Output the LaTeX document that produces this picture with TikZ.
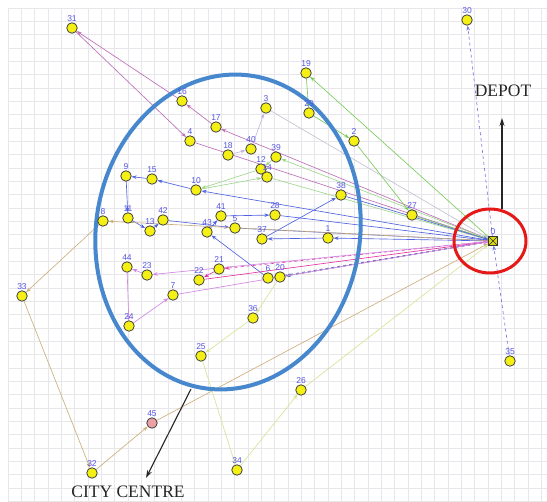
\documentclass[tikz,border=0pt]{standalone}
\usepackage{fontspec}
\setmainfont{Liberation Serif}
\newfontfamily\lblfont{Liberation Sans}
\usetikzlibrary{arrows.meta}
\pgfdeclarelayer{bg}
\pgfdeclarelayer{edges}
\pgfdeclarelayer{ovals}
\pgfsetlayers{bg,edges,ovals,main}
\definecolor{gridc}{RGB}{230,230,235}
\definecolor{lblc}{RGB}{85,85,225}
\definecolor{vio}{RGB}{190,110,185}
\definecolor{lav}{RGB}{200,180,225}
\definecolor{lgray}{RGB}{195,195,210}
\definecolor{grn}{RGB}{120,205,90}
\definecolor{lgrn}{RGB}{160,215,140}
\definecolor{blu}{RGB}{80,100,225}
\definecolor{dblu}{RGB}{70,80,170}
\definecolor{tan}{RGB}{205,175,125}
\definecolor{pale}{RGB}{215,228,150}
\definecolor{mag}{RGB}{230,50,160}
\definecolor{orch}{RGB}{210,135,225}
\definecolor{dpur}{RGB}{120,120,225}
\definecolor{ellc}{RGB}{70,135,205}
\definecolor{redc}{RGB}{230,25,25}
\definecolor{nodey}{RGB}{245,240,20}
\definecolor{pinkn}{RGB}{235,160,165}
\begin{document}
\begin{tikzpicture}[x=1pt,y=-1pt,
  lbl/.style={font=\lblfont\fontsize{8.5}{8.5}\selectfont,text=lblc,inner sep=0.3pt},
  cust/.style={circle,draw=black!75,fill=nodey,line width=0.8pt,minimum size=10.5pt,inner sep=0pt},
  depotbox/.style={rectangle,draw=black!80,fill=nodey!80!olive,line width=0.8pt,minimum size=8.5pt,inner sep=0pt,
     path picture={\draw[black!80,line width=0.5pt] (path picture bounding box.south west) -- (path picture bounding box.north east) (path picture bounding box.north west) -- (path picture bounding box.south east);}},
  e/.style={line width=0.65pt,-{Stealth[length=5pt,width=3.6pt]}},
  annot/.style={line width=1.1pt,black!85,-{Stealth[length=8pt,width=5pt]}},
  bigtxt/.style={font=\fontsize{17.5}{17.5}\selectfont,text=black!85,inner sep=0pt}]
\useasboundingbox (0,0) rectangle (547,502);
% grid
\begin{pgfonlayer}{bg}
\fill[white] (0,0) rectangle (547,502);
\foreach \i in {0,...,40} \draw[gridc,line width=0.5pt] ({8+13.33*\i},8) -- ({8+13.33*\i},502);
\foreach \i in {0,...,37} \draw[gridc,line width=0.5pt] (8,{8+13.33*\i}) -- (547,{8+13.33*\i});
\end{pgfonlayer}
% nodes
\node[depotbox,label={[lbl,label distance=1pt]90:0}] (n0) at (493,241) {};
\foreach \n/\x/\y in {1/328/238,2/354/141,3/266/108,4/190/141,5/235/228,6/268/278,7/173/295,
  8/103/221,9/126/176,10/196/190,11/128/218,12/261/169,13/150/231,14/267/177,15/152/179,
  16/182/101,17/216/127,18/228/155,19/306/73,20/280/277,21/219/269,22/199/280,23/147/275,
  24/129/326,25/201/356,26/301/390,27/412/215,28/275/215,29/309/113,30/467/20,31/72/28,
  32/92/473,33/22/296,34/237/470,35/510/361,36/253/318,37/262/239,38/341/195,39/276/157,
  40/251/149,41/221/216,42/163/220,43/207/232,44/127/267}
  \node[cust,label={[lbl,label distance=0.5pt]90:\n}] (n\n) at (\x,\y) {};
\node[cust,fill=pinkn,label={[lbl,label distance=0.5pt]90:45}] (n45) at (152,423) {};
% edges
\begin{pgfonlayer}{edges}
\foreach \a/\b in {0/17,17/16,16/31,31/4,4/0} \draw[e,vio] (n\a) -- (n\b);
\foreach \a/\b in {18/40,40/3} \draw[e,lav] (n\a) -- (n\b);
\draw[e,lgray] (n3) -- (n0);
\foreach \a/\b in {0/19,19/29,29/2,2/27,27/0} \draw[e,grn] (n\a) -- (n\b);
\foreach \a/\b in {0/39,39/12,12/10,10/14,14/0} \draw[e,lgrn] (n\a) -- (n\b);
\foreach \a/\b in {0/10,10/15,15/9,9/11,11/13,13/42,42/5,5/0} \draw[e,blu] (n\a) -- (n\b);
\foreach \a/\b in {6/43,43/41,41/28,28/0} \draw[e,blu] (n\a) -- (n\b);
\foreach \a/\b in {0/1,1/37,37/38,38/0} \draw[e,blu] (n\a) -- (n\b);
\draw[e,dblu,dashed] (n0) -- (n6);
\draw[e,dblu,dashed] (n0) -- (n20);
\foreach \a/\b in {0/8,8/33,33/32,32/45,45/0} \draw[e,tan] (n\a) -- (n\b);
\foreach \a/\b in {20/36,36/25,25/34,34/26,26/0} \draw[e,pale] (n\a) -- (n\b);
\draw[e,mag,dashed] (n0) -- (n21);
\draw[e,mag] (n21) -- (n22);
\draw[e,mag] (n22) -- (n0);
\foreach \a/\b in {0/23,23/44,44/24,24/7,7/0} \draw[e,orch] (n\a) -- (n\b);
\draw[e,dpur,dashed] (n0) -- (n30);
\draw[e,dpur,dashed] (n35) -- (n0);
\end{pgfonlayer}
% ovals
\begin{pgfonlayer}{ovals}
\draw[ellc,line width=4pt] (228,232) ellipse [x radius=132,y radius=158,rotate=-9];
\draw[redc,line width=3pt] (490,241) ellipse [x radius=36,y radius=32];
\end{pgfonlayer}
% annotations
\node[bigtxt] (dep) at (503,91) {DEPOT};
\coordinate (depfoot) at (502,209);
\coordinate (deptip) at (502,118);
\draw[annot] (depfoot) -- (deptip);
\node[bigtxt] (city) at (128,492) {CITY CENTRE};
\coordinate (cityfoot) at (191,389);
\coordinate (citytip) at (146,478);
\draw[annot] (cityfoot) -- (citytip);
\end{tikzpicture}
\end{document}
